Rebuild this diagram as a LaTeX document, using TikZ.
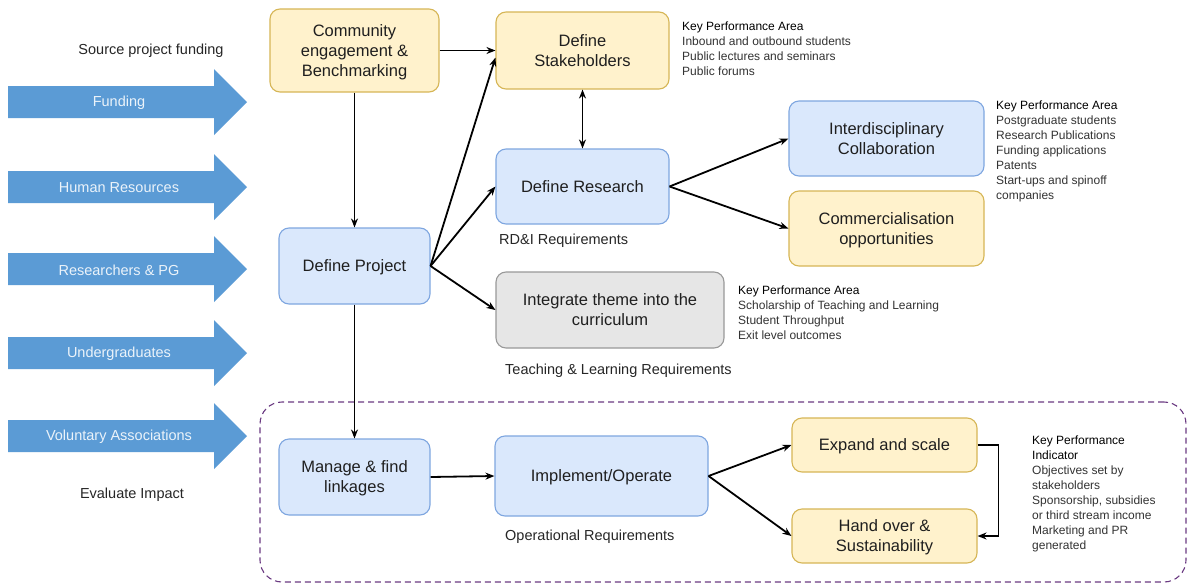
\documentclass[tikz,border=0pt]{standalone}
\usepackage{fontspec}
\setmainfont{Liberation Sans}
\usetikzlibrary{arrows.meta,calc}
\definecolor{yfill}{HTML}{FFF2CC}
\definecolor{ydraw}{HTML}{D6B656}
\definecolor{bfill}{HTML}{DAE8FC}
\definecolor{bdraw}{HTML}{7EA6E0}
\definecolor{gfill}{HTML}{E6E6E6}
\definecolor{gdraw}{HTML}{999999}
\definecolor{arrowblue}{HTML}{5B9BD5}
\definecolor{regionpurple}{HTML}{6B3A82}
\definecolor{txtgray}{HTML}{333333}
\begin{document}
\begin{tikzpicture}[x=1pt,y=-1pt,
  box/.style={draw, rounded corners=10pt, line width=1.1pt, align=center, inner sep=2pt,
    text depth=0pt, font=\fontsize{16.5}{20}\selectfont, text=black!88},
  ybox/.style={box, fill=yfill, draw=ydraw},
  bbox/.style={box, fill=bfill, draw=bdraw},
  gbox/.style={box, fill=gfill, draw=gdraw},
  conn/.style={-{Stealth[length=9pt,width=7pt]}, line width=1.8pt},
  kpa/.style={anchor=north west, align=left, inner sep=0pt, font=\fontsize{12}{15}\selectfont, text=txtgray},
  lbl/.style={font=\fontsize{14.5}{17}\selectfont, text=black!85, inner sep=0pt},
  barrowtext/.style={font=\fontsize{14.5}{17}\selectfont, text=white!88!arrowblue, inner sep=0pt}
]
\useasboundingbox (0,0) rectangle (1192,584);
\fill[white] (0,0) rectangle (1192,584);

% dashed region
\node[draw=regionpurple, dash pattern=on 6pt off 4pt, line width=1.1pt, rounded corners=22pt,
  minimum width=926pt, minimum height=180pt, inner sep=0pt] (region) at (723,492) {};

% block arrows
\foreach \c/\t/\n in {102/Funding/afund, 187/Human Resources/ahr, 269/Researchers \& PG/ares, 353/Undergraduates/aund, 436/Voluntary Associations/avol}{
  \fill[arrowblue] (8,\c-16) -- (214,\c-16) -- (214,\c-33) -- (247,\c) -- (214,\c+33) -- (214,\c+16) -- (8,\c+16) -- cycle;
  \node[barrowtext] (\n) at (119,\c+1) {\t};
}

% side labels
\node[lbl] (srcfund) at (151,51) {Source project funding};
\node[lbl] (evalimp) at (132,495) {Evaluate Impact};

% boxes
\node[ybox, minimum width=169pt, minimum height=83pt] (comm) at (354.5,50.5) {Community\\engagement \&\\Benchmarking};
\node[ybox, minimum width=173pt, minimum height=77pt] (stake) at (582.5,50.5) {Define\\Stakeholders};
\node[bbox, minimum width=173pt, minimum height=75pt] (research) at (582.5,186.5) {Define Research};
\node[bbox, minimum width=151pt, minimum height=76pt] (proj) at (354.5,266) {Define Project};
\node[bbox, minimum width=195pt, minimum height=75pt] (inter) at (886.5,138.5) {Interdisciplinary\\Collaboration};
\node[ybox, minimum width=195pt, minimum height=75pt] (commerc) at (886.5,228.5) {Commercialisation\\opportunities};
\node[gbox, minimum width=228pt, minimum height=76pt] (integ) at (610,310) {Integrate theme into the\\curriculum};
\node[bbox, minimum width=151pt, minimum height=76pt] (manage) at (354.5,477) {Manage \& find\\linkages};
\node[bbox, minimum width=213pt, minimum height=80pt] (impl) at (601.5,476) {Implement/Operate};
\node[ybox, minimum width=185pt, minimum height=54pt] (expand) at (884.5,445) {Expand and scale};
\node[ybox, minimum width=185pt, minimum height=54pt] (hand) at (884.5,536) {Hand over \&\\Sustainability};

% requirement labels
\node[lbl, anchor=west] (rdi) at (499,241) {RD\&I Requirements};
\node[lbl, anchor=west] (tlr) at (505,371) {Teaching \& Learning Requirements};
\node[lbl, anchor=west] (opr) at (505,537) {Operational Requirements};

% KPA texts
\node[kpa] (kpa1) at (682,22) {\textcolor{black}{Key Performance Area}\\Inbound and outbound students\\Public lectures and seminars\\Public forums};
\node[kpa] (kpa2) at (996,101) {\textcolor{black}{Key Performance Area}\\Postgraduate students\\Research Publications\\Funding applications\\Patents\\Start-ups and spinoff\\companies};
\node[kpa] (kpa3) at (738,286) {\textcolor{black}{Key Performance Area}\\Scholarship of Teaching and Learning\\Student Throughput\\Exit level outcomes};
\node[kpa] (kpi) at (1032,436) {\textcolor{black}{Key Performance}\\\textcolor{black}{Indicator}\\Objectives set by\\stakeholders\\Sponsorship, subsidies\\or third stream income\\Marketing and PR\\generated};

% connectors
\draw[conn] (comm.east) -- (stake.west);
\draw[conn] (comm.south) -- (proj.north);
\draw[conn] (proj.east) -- ([yshift=-7pt]stake.west);
\draw[conn] (proj.east) -- (research.west);
\draw[conn] (proj.east) -- (integ.west);
\draw[conn] (proj.south) -- (manage.north);
\draw[conn] (manage.east) -- (impl.west);
\draw[{Stealth[length=9pt,width=7pt]}-{Stealth[length=9pt,width=7pt]}, line width=1.8pt] (stake.south) -- (research.north);
\draw[conn] (research.east) -- (inter.west);
\draw[conn] (research.east) -- (commerc.west);
\draw[conn] (impl.east) -- (expand.west);
\draw[conn] (impl.east) -- (hand.west);
\draw[conn] (expand.east) -- ++(21,0) |- (hand.east);
\end{tikzpicture}
\end{document}
